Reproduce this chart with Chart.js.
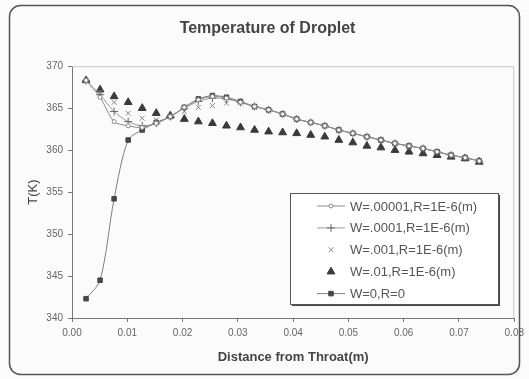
<!DOCTYPE html>
<html>
<head>
<meta charset="utf-8">
<title>Temperature of Droplet</title>
<script src="https://cdn.jsdelivr.net/npm/chart.js@4.4.1/dist/chart.umd.min.js"></script>
<style>
  html, body { margin: 0; padding: 0; background: #ffffff; }
  #dropletChart { display: block; }
</style>
</head>
<body>
<canvas id="dropletChart" width="529" height="379"></canvas>
<script>
// Distance from throat (m) - one station every 0.1 inch
var distances = [0.00254, 0.00508, 0.00762, 0.01016, 0.0127, 0.01524, 0.01778, 0.02032, 0.02286, 0.0254,
    0.02794, 0.03048, 0.03302, 0.03556, 0.0381, 0.04064, 0.04318, 0.04572, 0.04826, 0.0508,
    0.05334, 0.05588, 0.05842, 0.06096, 0.0635, 0.06604, 0.06858, 0.07112, 0.07366];

// Droplet temperature T(K) for each case
var tempW00001 = [368.3, 366.3, 363.4, 362.9, 362.7, 363.2, 364.0, 365.1, 366.0, 366.4,
    366.2, 365.7, 365.2, 364.8, 364.3, 363.7, 363.3, 362.9, 362.4, 362.0,
    361.6, 361.2, 360.8, 360.5, 360.2, 359.8, 359.4, 359.1, 358.7];
var tempW0001 = [368.3, 366.6, 364.6, 363.4, 362.9, 363.2, 364.0, 365.0, 365.8, 366.2,
    366.1, 365.7, 365.2, 364.8, 364.3, 363.7, 363.3, 362.9, 362.4, 362.0,
    361.6, 361.2, 360.8, 360.5, 360.2, 359.8, 359.4, 359.1, 358.7];
var tempW001 = [368.3, 366.9, 365.7, 364.4, 363.8, 363.6, 364.0, 364.6, 365.1, 365.3,
    365.6, 365.6, 365.1, 364.7, 364.3, 363.7, 363.3, 362.9, 362.4, 362.0,
    361.6, 361.2, 360.8, 360.5, 360.2, 359.8, 359.4, 359.1, 358.7];
var tempW01 = [368.3, 367.2, 366.4, 365.7, 365.0, 364.4, 364.1, 363.7, 363.4, 363.2,
    362.9, 362.7, 362.4, 362.2, 362.1, 362.0, 361.8, 361.6, 361.2, 360.9,
    360.5, 360.3, 360.0, 359.8, 359.6, 359.4, 359.2, 359.0, 358.6];
var tempW0 = [342.3, 344.5, 354.2, 361.2, 362.4, 363.3, 364.0, 365.1, 366.1, 366.5,
    366.3, 365.8, 365.2, 364.8, 364.3, 363.7, 363.3, 362.9, 362.4, 362.0,
    361.6, 361.2, 360.8, 360.5, 360.2, 359.8, 359.4, 359.1, 358.7];

var seriesLabels = ["W=.00001,R=1E-6(m)", "W=.0001,R=1E-6(m)", "W=.001,R=1E-6(m)", "W=.01,R=1E-6(m)", "W=0,R=0"];
var xTicks = [0, 0.01, 0.02, 0.03, 0.04, 0.05, 0.06, 0.07, 0.08];
var yTicks = [340, 345, 350, 355, 360, 365, 370];

var FONT = "'Liberation Sans', Arial, sans-serif";

function toPoints(values) {
    return distances.map(function (d, i) { return { x: d, y: values[i] }; });
}

// Frame, plot border and the boxed legend (Excel style)
var excelFrame = {
    id: "excelFrame",
    beforeDraw: function (chart) {
        var ctx = chart.ctx;
        ctx.save();
        ctx.fillStyle = "#fbfbfb";
        ctx.fillRect(0, 0, chart.width, chart.height);
        ctx.restore();
    },
    beforeDatasetsDraw: function (chart) {
        var a = chart.chartArea;
        var ctx = chart.ctx;
        ctx.save();
        ctx.strokeStyle = "#c8c8c8";
        ctx.lineWidth = 1;
        ctx.beginPath();
        ctx.moveTo(a.left, a.top + 0.5);
        ctx.lineTo(a.right - 0.5, a.top + 0.5);
        ctx.lineTo(a.right - 0.5, a.bottom);
        ctx.stroke();
        ctx.restore();
    },
    afterDraw: function (chart) {
        var ctx = chart.ctx;
        ctx.save();

        // outer rounded border
        ctx.strokeStyle = "#555555";
        ctx.lineWidth = 1.5;
        ctx.beginPath();
        ctx.roundRect(9.5, 5.5, 510, 369, 11);
        ctx.stroke();

        // legend box with shadow
        var lx = 290, ly = 193, lw = 208, lh = 111;
        ctx.fillStyle = "#444444";
        ctx.fillRect(lx + 2, ly + 2, lw, lh);
        ctx.fillStyle = "#ffffff";
        ctx.fillRect(lx, ly, lw, lh);
        ctx.strokeStyle = "#555555";
        ctx.lineWidth = 1;
        ctx.strokeRect(lx + 0.5, ly + 0.5, lw, lh);

        ctx.font = "13px " + FONT;
        ctx.textBaseline = "middle";
        ctx.textAlign = "left";
        chart.data.datasets.forEach(function (ds, i) {
            var y = ly + 13 + i * 21.9;
            if (ds.showLine) {
                ctx.strokeStyle = ds.borderColor;
                ctx.lineWidth = ds.borderWidth;
                ctx.beginPath();
                ctx.moveTo(317, y);
                ctx.lineTo(345, y);
                ctx.stroke();
            }
            ctx.fillStyle = ds.pointBackgroundColor;
            ctx.strokeStyle = ds.pointBorderColor;
            ctx.lineWidth = ds.pointBorderWidth;
            Chart.helpers.drawPoint(ctx, {
                pointStyle: ds.pointStyle,
                radius: ds.pointRadius,
                rotation: 0,
                borderWidth: ds.pointBorderWidth
            }, 331, y);
            ctx.fillStyle = "#555555";
            ctx.fillText(ds.label, 350, y + 1);
        });
        ctx.restore();
    }
};

var dropletChart = null;

function initializeChart() {
    var canvas = document.getElementById("dropletChart");
    if (!canvas) {
        console.error("Canvas not found!");
        return;
    }

    dropletChart = new Chart(canvas.getContext("2d"), {
        type: "scatter",
        data: {
            datasets: [{
                label: seriesLabels[0],
                data: toPoints(tempW00001),
                showLine: true,
                tension: 0.3,
                borderColor: "#8a8a8a",
                borderWidth: 1,
                pointStyle: "circle",
                pointRadius: 2,
                pointBackgroundColor: "#ffffff",
                pointBorderColor: "#888888",
                pointBorderWidth: 1
            }, {
                label: seriesLabels[1],
                data: toPoints(tempW0001),
                showLine: true,
                tension: 0.3,
                borderColor: "#9a9a9a",
                borderWidth: 1,
                pointStyle: "cross",
                pointRadius: 4,
                pointBackgroundColor: "#666666",
                pointBorderColor: "#666666",
                pointBorderWidth: 1
            }, {
                label: seriesLabels[2],
                data: toPoints(tempW001),
                showLine: false,
                pointStyle: "crossRot",
                pointRadius: 3.5,
                pointBackgroundColor: "#888888",
                pointBorderColor: "#888888",
                pointBorderWidth: 1
            }, {
                label: seriesLabels[3],
                data: toPoints(tempW01),
                showLine: false,
                pointStyle: "triangle",
                pointRadius: 4.5,
                pointBackgroundColor: "#3a3a3a",
                pointBorderColor: "#3a3a3a",
                pointBorderWidth: 1
            }, {
                label: seriesLabels[4],
                data: toPoints(tempW0),
                showLine: true,
                tension: 0.3,
                borderColor: "#808080",
                borderWidth: 1,
                pointStyle: "rect",
                pointRadius: 3.2,
                pointBackgroundColor: "#474747",
                pointBorderColor: "#474747",
                pointBorderWidth: 1
            }]
        },
        options: {
            responsive: false,
            animation: false,
            devicePixelRatio: 1,
            layout: { padding: { left: 20, right: 14, top: 0, bottom: 8 } },
            plugins: {
                legend: { display: false },
                tooltip: { enabled: false },
                title: {
                    display: true,
                    text: "Temperature of Droplet",
                    color: "#444444",
                    font: { family: FONT, size: 16, weight: "bold" },
                    padding: { top: 19, bottom: 28 }
                }
            },
            scales: {
                x: {
                    type: "linear",
                    min: xTicks[0],
                    max: xTicks[xTicks.length - 1],
                    afterBuildTicks: function (axis) {
                        axis.ticks = xTicks.map(function (v) { return { value: v }; });
                    },
                    afterFit: function (axis) { axis.height = 53; },
                    ticks: {
                        color: "#666666",
                        font: { family: FONT, size: 10 },
                        padding: 5,
                        maxRotation: 0,
                        callback: function (v) { return Number(v).toFixed(2); }
                    },
                    grid: { drawOnChartArea: false, drawTicks: true, tickLength: 4, color: "#777777" },
                    border: { color: "#777777" },
                    title: {
                        display: true,
                        text: "Distance from Throat(m)",
                        color: "#444444",
                        font: { family: FONT, size: 13, weight: "bold" },
                        padding: { top: 4, bottom: 6 }
                    }
                },
                y: {
                    min: yTicks[0],
                    max: yTicks[yTicks.length - 1],
                    afterBuildTicks: function (axis) {
                        axis.ticks = yTicks.map(function (v) { return { value: v }; });
                    },
                    afterFit: function (axis) { axis.width = 52; },
                    ticks: {
                        color: "#666666",
                        font: { family: FONT, size: 10 },
                        padding: 5
                    },
                    grid: { drawOnChartArea: false, drawTicks: true, tickLength: 4, color: "#777777" },
                    border: { color: "#777777" },
                    title: {
                        display: true,
                        text: "T(K)",
                        color: "#444444",
                        font: { family: FONT, size: 13 },
                        padding: { top: 6, bottom: 4 }
                    }
                }
            }
        },
        plugins: [excelFrame]
    });
}

document.addEventListener("DOMContentLoaded", function () {
    if (typeof Chart === "undefined") {
        console.error("Chart.js failed to load!");
        return;
    }
    initializeChart();
});
</script>
</body>
</html>
